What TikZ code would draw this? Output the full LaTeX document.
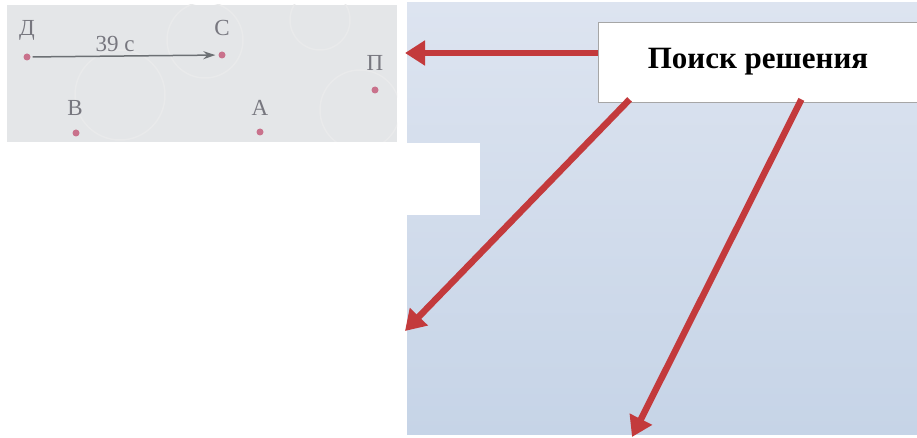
\documentclass[tikz,border=0pt]{standalone}
\usepackage{fontspec}
\setmainfont{Liberation Serif}
\usetikzlibrary{arrows.meta}
\definecolor{bluetop}{HTML}{DDE4F0}
\definecolor{bluebot}{HTML}{C6D4E7}
\definecolor{graybg}{HTML}{E4E6E8}
\definecolor{circgray}{HTML}{E9EAEB}
\definecolor{redarrow}{HTML}{C33A3C}
\definecolor{dotpink}{HTML}{C9728C}
\definecolor{labelgray}{HTML}{77777F}
\definecolor{linegray}{HTML}{6C7074}
\begin{document}
\begin{tikzpicture}[x=1pt,y=-1pt,
  dot/.style={circle,fill=dotpink,inner sep=0pt,minimum size=7pt},
  lbl/.style={text=labelgray,font=\fontsize{23}{23}\selectfont,inner sep=0pt},
  box/.style={draw=gray!70,fill=white,line width=0.8pt,minimum width=320pt,minimum height=80pt,
    font=\fontsize{31}{31}\selectfont\bfseries},
  redarr/.style={draw=redarrow,line width=6.5pt,-{Triangle[length=20pt,width=24pt]}},
  grayarr/.style={draw=linegray,line width=1.5pt,-{Stealth[length=12pt,width=8pt]},shorten >=3pt,shorten <=2pt}]
\useasboundingbox (0,0) rectangle (917,438);
\fill[white] (0,0) rectangle (917,438);
\shade[top color=bluetop,bottom color=bluebot] (407,3) rectangle (917,434);
\fill[white] (0,143) rectangle (480,215);
% picture panel
\fill[graybg] (7,5) rectangle (397,142);
\begin{scope}
\clip (7,5) rectangle (397,142);
\draw[circgray,line width=1.5pt] (205,40) circle (38);
\draw[circgray,line width=1.5pt] (360,110) circle (40);
\draw[circgray,line width=1.5pt] (120,95) circle (45);
\draw[circgray,line width=1.5pt] (320,20) circle (30);
\end{scope}
\node[dot] (D) at (27,57) {};
\node[dot] (C) at (222,55) {};
\node[dot] (P) at (375,90) {};
\node[dot] (B) at (76,133) {};
\node[dot] (A) at (260,132) {};
\node[lbl] (Dl) at (27,30) {Д};
\node[lbl] (Cl) at (222,28) {С};
\node[lbl] (Pl) at (375,63) {П};
\node[lbl] (Bl) at (75,108) {В};
\node[lbl] (Al) at (260,108) {А};
\draw[grayarr] (D) -- (C);
\node[lbl] (t39) at (115,44) {39 с};
% callout
\node[box] (box) at (758,62) {Поиск решения};
\coordinate (e1) at (405,53);
\coordinate (e2) at (405,331);
\coordinate (e3) at (632,437);
\draw[redarr] ([yshift=9pt]box.west) -- (e1);
\draw[redarr] ([xshift=32pt,yshift=3pt]box.south west) -- (e2);
\draw[redarr] ([xshift=-117pt,yshift=3pt]box.south east) -- (e3);
\end{tikzpicture}
\end{document}
